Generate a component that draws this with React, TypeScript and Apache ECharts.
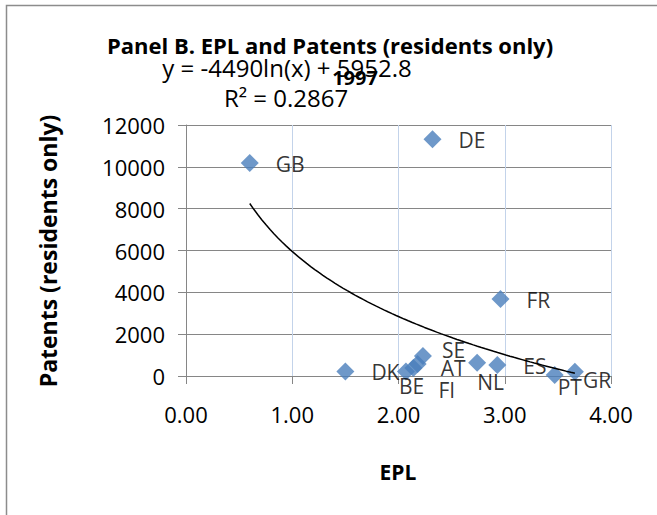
import React, { useEffect, useRef } from "react";
import * as echarts from "echarts";

const countries = ["GB", "DE", "FR", "DK", "BE", "FI", "AT", "SE", "NL", "ES", "PT", "GR"];
const eplValues = [0.6, 2.32, 2.96, 1.5, 2.07, 2.14, 2.18, 2.23, 2.74, 2.93, 3.47, 3.66];
const patentValues = [10180, 11320, 3680, 210, 215, 380, 575, 955, 636, 526, 48, 206];
// label offsets [dx, dy] relative to the default right-hand position
const labelOffsets = [
  [0, 1], [0, 1], [0, 1], [0, 0], [-33, 14], [-1, 22], [-3, 4], [-7, -6], [-26, 19], [0, 1], [-23, 12], [-18, 8],
];
const xTicks = { min: 0, max: 4, interval: 1 };
const yTicks = { min: 0, max: 12000, interval: 2000 };
const trendA = -4490;
const trendB = 5952.8;

const FONT = "'Open Sans', 'Noto Sans', sans-serif";

export default function App() {
  const ref = useRef<HTMLDivElement>(null);
  useEffect(() => {
    if (!ref.current) return;
    const chart = echarts.init(ref.current, null, { renderer: "svg" });
    const xMin = Math.min(...eplValues);
    const xMax = Math.max(...eplValues);
    const trend: number[][] = [];
    const n = 80;
    for (let i = 0; i <= n; i++) {
      const x = xMin + ((xMax - xMin) * i) / n;
      trend.push([x, trendA * Math.log(x) + trendB]);
    }
    const scatterData = countries.map((c, i) => ({
      value: [eplValues[i], patentValues[i]],
      name: c,
    }));
    chart.setOption({
      animation: false,
      textStyle: { fontFamily: FONT },
      grid: { left: 186, top: 125, right: 46, bottom: 139, containLabel: false },
      xAxis: {
        type: "value",
        min: xTicks.min,
        max: xTicks.max,
        interval: xTicks.interval,
        axisLine: { show: true, onZero: false, lineStyle: { color: "#868686", width: 1 } },
        axisTick: { show: true, length: 8, inside: false, lineStyle: { color: "#868686" } },
        axisLabel: {
          formatter: (v: number) => v.toFixed(2),
          color: "#000",
          fontSize: 22,
          fontFamily: FONT,
          margin: 27,
        },
        splitLine: { show: true, lineStyle: { color: "#c3d3ea", width: 1 } },
      },
      yAxis: {
        type: "value",
        min: yTicks.min,
        max: yTicks.max,
        interval: yTicks.interval,
        axisLine: { show: true, lineStyle: { color: "#868686", width: 1 } },
        axisTick: { show: true, length: 8, lineStyle: { color: "#868686" } },
        axisLabel: {
          formatter: (v: number) => String(v),
          color: "#000",
          fontSize: 22,
          fontFamily: FONT,
          margin: 21,
        },
        splitLine: { show: true, lineStyle: { color: "#868686", width: 1 } },
      },
      series: [
        {
          type: "scatter",
          symbol: "diamond",
          symbolSize: 18,
          clip: false,
          itemStyle: { color: "#4a7ebb" },
          z: 2,
          label: {
            show: true,
            position: "right",
            distance: 17,
            formatter: (p: any) => p.name,
            color: "#000",
            fontSize: 21,
            fontFamily: FONT,
          },
          labelLayout: (params: any) => {
            const o = labelOffsets[params.dataIndex] || [0, 0];
            return { dx: o[0], dy: o[1], hideOverlap: false };
          },
          data: scatterData,
        },
        {
          type: "line",
          data: trend,
          showSymbol: false,
          symbol: "none",
          smooth: false,
          lineStyle: { color: "#000", width: 1.5 },
          z: 5,
          silent: true,
        },
      ],
      graphic: [
        {
          type: "rect",
          shape: { x: 6.5, y: 5.5, width: 720, height: 620 },
          style: { fill: "none", stroke: "#8c8c8c", lineWidth: 1.5 },
          silent: true,
        },
        {
          type: "text",
          x: 330,
          y: 45,
          style: {
            text: "Panel B. EPL and Patents (residents only)",
            font: `bold 22px ${FONT}`,
            fill: "#000",
            align: "center",
            verticalAlign: "middle",
          },
        },
        {
          type: "text",
          x: 287,
          y: 67,
          style: {
            text: "y = -4490ln(x) + 5952.8",
            font: `24px ${FONT}`,
            fill: "#000",
            align: "center",
            verticalAlign: "middle",
          },
        },
        {
          type: "text",
          x: 355,
          y: 77,
          style: {
            text: "1997",
            font: `bold 20px ${FONT}`,
            fill: "#000",
            align: "center",
            verticalAlign: "middle",
          },
        },
        {
          type: "text",
          x: 286,
          y: 97,
          style: {
            text: "R² = 0.2867",
            font: `24px ${FONT}`,
            fill: "#000",
            align: "center",
            verticalAlign: "middle",
          },
        },
        {
          type: "text",
          x: 48,
          y: 251,
          rotation: Math.PI / 2,
          style: {
            text: "Patents (residents only)",
            font: `bold 23px ${FONT}`,
            fill: "#000",
            align: "center",
            verticalAlign: "middle",
          },
        },
        {
          type: "text",
          x: 398,
          y: 472,
          style: {
            text: "EPL",
            font: `bold 21px ${FONT}`,
            fill: "#000",
            align: "center",
            verticalAlign: "middle",
          },
        },
      ],
    });
    return () => chart.dispose();
  }, []);
  return (
    <div
      ref={ref}
      style={{ position: "fixed", left: 0, top: 0, width: 657, height: 515, background: "#fff" }}
    />
  );
}
